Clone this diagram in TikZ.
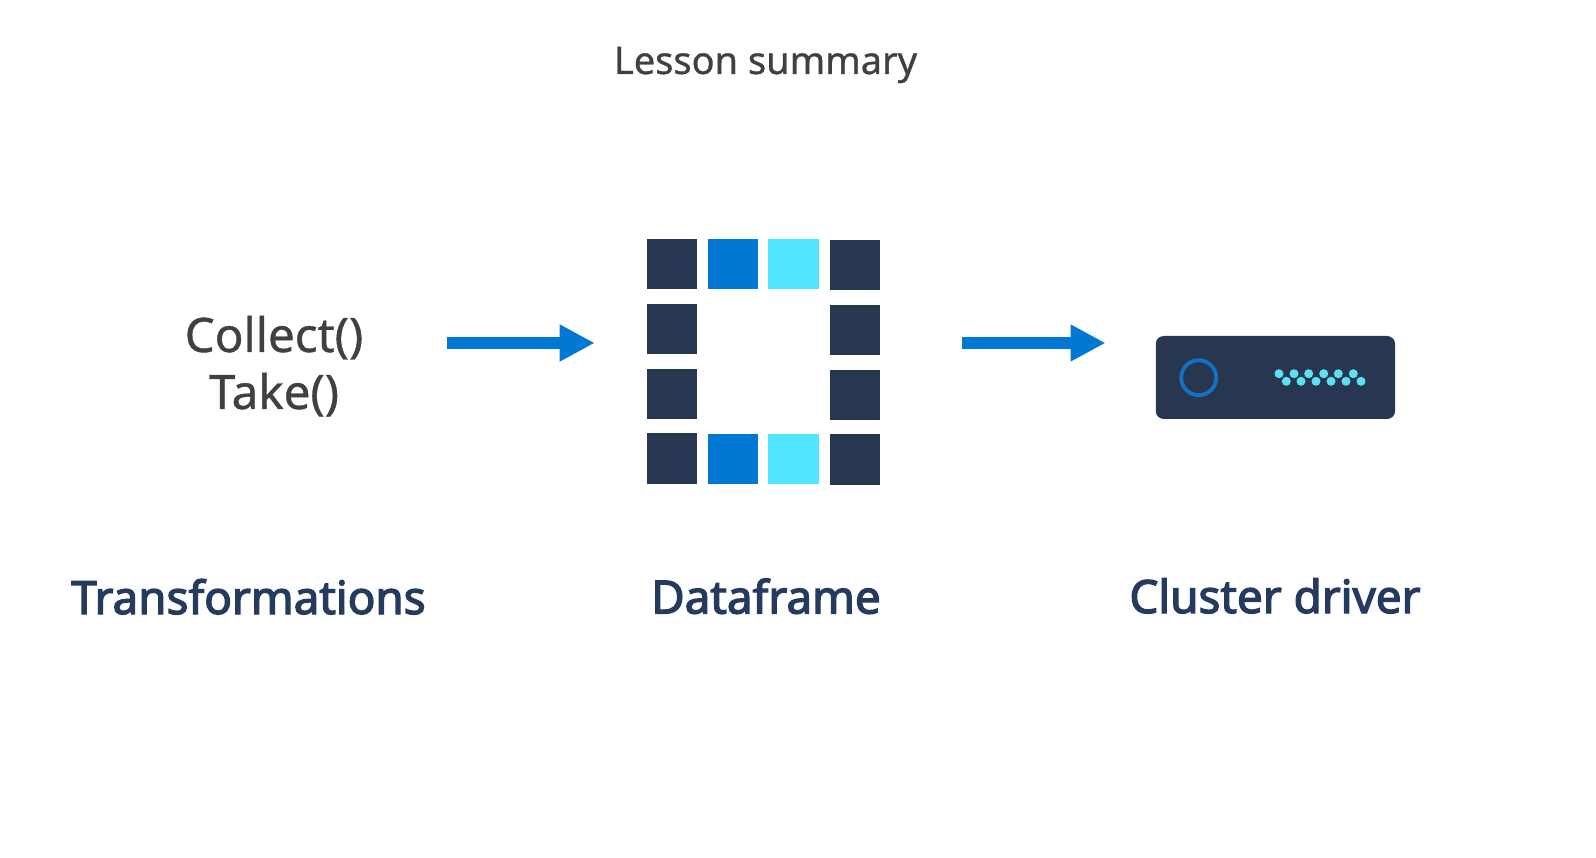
\documentclass[tikz,border=0pt]{standalone}
\usepackage{fontspec}
\usetikzlibrary{arrows.meta,fit}
\setmainfont{Noto Sans}
\newfontfamily\softbold[FakeBold=0.8]{Noto Sans}
\newfontfamily\capbold[FakeBold=2.8]{Noto Sans}
\definecolor{navy}{HTML}{26374F}
\definecolor{captionnavy}{HTML}{243A5E}
\definecolor{azure}{HTML}{0078D4}
\definecolor{cyanlight}{HTML}{50E6FF}
\definecolor{ringblue}{HTML}{1272C4}
\definecolor{dotcyan}{HTML}{5CE0F5}
\definecolor{greytext}{HTML}{404040}
\tikzset{
  cell/.style={rectangle,inner sep=0pt,minimum width=50.6pt,minimum height=50.4pt,fill=#1},
  title/.style={anchor=base,text=greytext,font=\softbold\fontsize{38}{40}\selectfont},
  code/.style={anchor=base,text=greytext,font=\softbold\fontsize{47.5}{50}\selectfont},
  caption/.style={anchor=base,text=captionnavy,font=\capbold\fontsize{45.8}{50}\selectfont},
  flow/.style={azure,line width=12.4pt,-{Triangle[length=35pt,width=34.5pt]}},
  dot/.style={circle,inner sep=0pt,minimum size=9pt,fill=dotcyan},
}
\begin{document}
\begin{tikzpicture}[x=1pt,y=-1pt]
\useasboundingbox[fill=white] (0,0) rectangle (1596,858);
\node[title] (lesson) at (765.5,74) {Lesson summary};
\node[code] (collect) at (274,352) {Collect()};
\node[code] (take) at (274,409) {Take()};
\node[caption] (transformations) at (248.5,614) {Transformations};
\node[caption] (dataframe) at (766,613.5) {Dataframe};
\node[caption] (clusterdriver) at (1275,613) {Cluster driver};
% dataframe grid
\foreach \n/\x/\y/\c in {
  a1/672/264/navy,a2/733/264/azure,a3/793.6/264.3/cyanlight,a4/855/265/navy,
  b1/672/329/navy,b4/855/330/navy,
  c1/672/394/navy,c4/855/395/navy,
  d1/672/458.5/navy,d2/733/459/azure,d3/793.6/459/cyanlight,d4/855/459.5/navy}{
  \node[cell=\c] (\n) at (\x,\y) {};
}
\node[fit=(a1)(d4),inner sep=0pt] (frame) {};
% cluster driver
\node[rectangle,rounded corners=8pt,fill=navy,inner sep=0pt,minimum width=239.3pt,minimum height=83pt] (driver) at (1275.4,377.5) {};
\node[circle,draw=ringblue,line width=3.8pt,inner sep=0pt,minimum size=35pt] (ring) at (1198.7,377.7) {};
\foreach \i/\x in {1/1279,2/1294,3/1308.7,4/1323.7,5/1338.3,6/1353.3}{\node[dot] (t\i) at (\x,373.7) {};}
\foreach \i/\x in {1/1286.3,2/1301,3/1316,4/1331,5/1346,6/1361}{\node[dot] (u\i) at (\x,381.3) {};}
% arrows
\coordinate (fromcode) at (446.7,343);
\coordinate (fromframe) at (961.7,343);
\draw[flow,shorten >=51.6pt] (fromcode) -- (frame.west |- fromcode);
\draw[flow,shorten >=50pt] (fromframe) -- (driver.west |- fromframe);
\end{tikzpicture}
\end{document}
